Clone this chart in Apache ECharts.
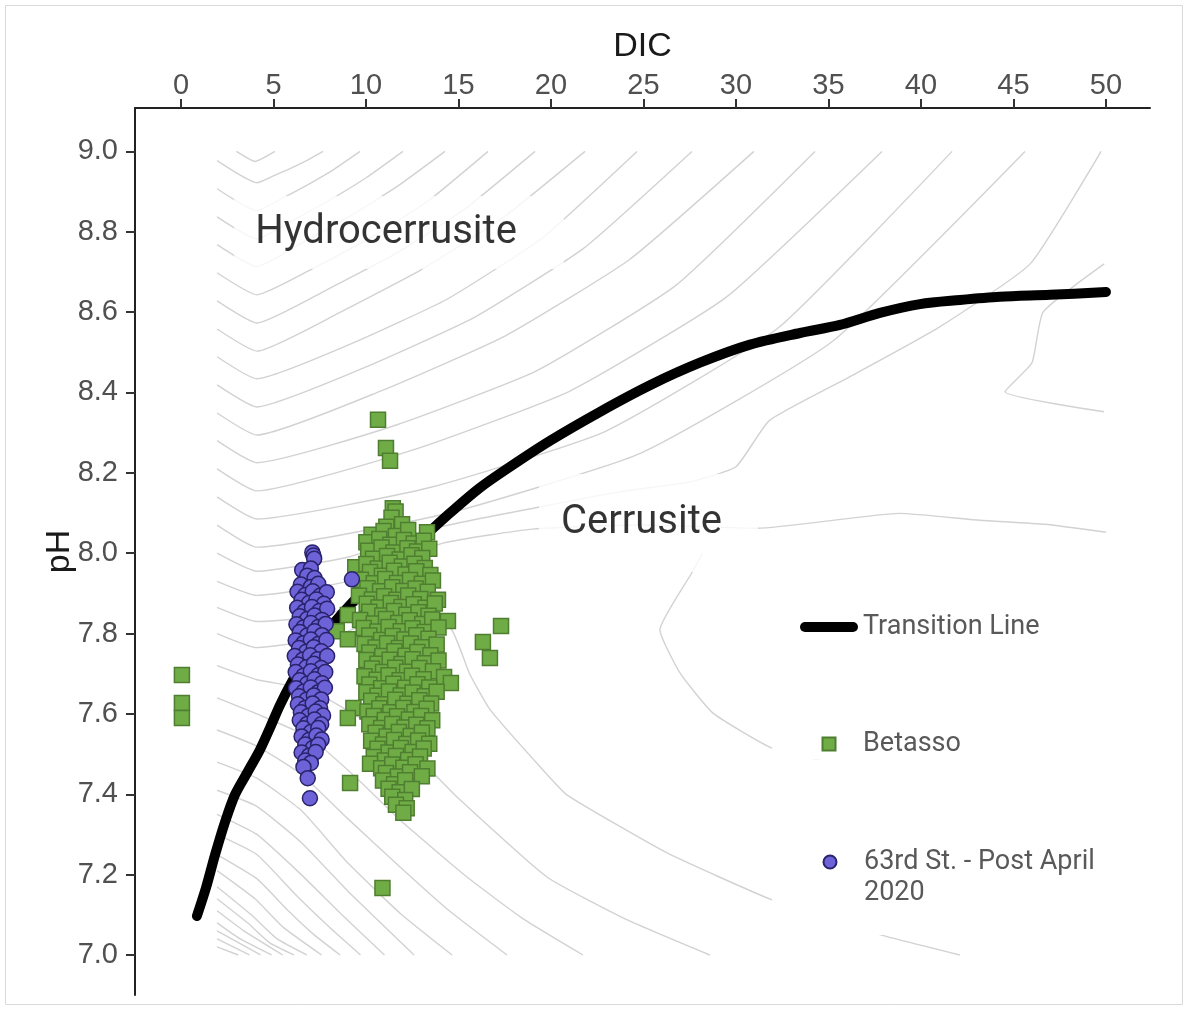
<!DOCTYPE html>
<html><head><meta charset="utf-8">
<script src="https://cdn.jsdelivr.net/npm/echarts@6/dist/echarts.min.js"></script>
<style>html,body{margin:0;padding:0;background:#fff}#c{width:1186px;height:1010px}</style>
</head><body><div id="c"></div>
<script>
// ---- axis ticks ----
const xTicks = [0, 5, 10, 15, 20, 25, 30, 35, 40, 45, 50];
const yTicks = [7.0, 7.2, 7.4, 7.6, 7.8, 8.0, 8.2, 8.4, 8.6, 8.8, 9.0];

// ---- transition line (DIC, pH) ----
const transitionLine = [
  [0.86,7.097],[1.35,7.167],[1.84,7.249],[2.38,7.331],[2.92,7.399],[3.57,7.453],[4.27,7.511],
  [4.81,7.565],[5.35,7.622],[6.0,7.68],[6.70,7.734],[7.41,7.779],[8.22,7.824],[9.14,7.871],
  [10.22,7.923],[11.57,7.983],[12.92,8.033],[14.54,8.100],[16.16,8.163],[17.78,8.215],
  [19.95,8.280],[22.65,8.352],[25.35,8.418],[28.05,8.474],[30.76,8.519],[33.46,8.548],
  [35.62,8.568],[37.78,8.598],[39.95,8.620],[42.11,8.630],[44.27,8.638],[46.97,8.643],[50.0,8.650]
];

// ---- Betasso (DIC, pH) ----
const betasso = [
  [11.45,8.112],[11.6,8.104],[11.38,8.088],[11.1,8.066],[11.95,8.072],
  [10.3,8.046],[10.95,8.055],[11.62,8.043],[12.28,8.058],[13.3,8.052],
  [10.02,8.027],[10.72,8.035],[11.32,8.021],[12.05,8.033],[12.58,8.024],[13.12,8.031],
  [10.12,8.006],[10.84,8.014],[11.48,8.002],[12.24,8.012],[12.76,8.004],[13.42,8.011],
  [10.38,7.986],[11.14,7.993],[11.82,7.984],[12.46,7.995],[13.04,7.988],
  [9.42,7.965],[10.02,7.973],[10.64,7.962],[11.28,7.976],[11.94,7.967],[12.62,7.974],[13.18,7.963],
  [10.22,7.953],[10.86,7.944],[11.52,7.956],[12.14,7.947],[12.72,7.955],[13.48,7.946],
  [9.72,7.934],[10.42,7.925],[11.04,7.936],[11.68,7.926],[12.38,7.933],[13.02,7.924],[13.62,7.932],
  [10.08,7.913],[10.76,7.905],[11.42,7.915],[12.02,7.906],[12.68,7.912],[13.34,7.904],
  [9.62,7.894],[10.32,7.885],[10.98,7.893],[11.64,7.884],[12.28,7.895],[12.94,7.886],[13.89,7.884],
  [10.04,7.874],[10.68,7.865],[11.34,7.876],[11.92,7.866],[12.58,7.873],[13.22,7.864],[13.72,7.875],
  [9.02,7.846],[10.18,7.854],[10.88,7.845],[11.52,7.856],[12.18,7.847],[12.84,7.853],[13.38,7.844],
  [9.68,7.834],[10.42,7.825],[11.08,7.836],[11.74,7.826],[12.36,7.833],[13.04,7.824],[13.58,7.835],[14.43,7.831],
  [8.42,7.806],[9.88,7.814],[10.62,7.805],[11.22,7.816],[11.88,7.806],[12.52,7.813],[13.18,7.804],[13.92,7.815],
  [9.02,7.786],[10.18,7.795],[10.82,7.784],[11.44,7.794],[12.08,7.785],[12.72,7.796],[13.38,7.787],
  [9.92,7.774],[10.52,7.765],[11.14,7.776],[11.78,7.764],[12.42,7.775],[13.02,7.766],[13.82,7.773],
  [10.18,7.753],[10.88,7.744],[11.54,7.756],[12.14,7.745],[12.78,7.754],[13.48,7.746],
  [10.02,7.734],[10.62,7.725],[11.28,7.735],[11.92,7.724],[12.52,7.736],[13.18,7.726],[13.92,7.733],
  [10.32,7.713],[10.92,7.704],[11.58,7.715],[12.22,7.705],[12.88,7.714],[13.62,7.706],
  [9.92,7.694],[10.58,7.685],[11.22,7.696],[11.82,7.684],[12.48,7.695],[13.12,7.686],[14.22,7.692],
  [10.18,7.673],[10.82,7.664],[11.48,7.675],[12.12,7.665],[12.78,7.674],[13.42,7.666],[14.59,7.677],
  [10.02,7.654],[10.62,7.645],[11.24,7.656],[11.88,7.646],[12.52,7.653],[13.18,7.644],[13.82,7.655],
  [10.28,7.633],[10.94,7.624],[11.58,7.635],[12.24,7.625],[12.88,7.634],[13.52,7.626],
  [9.32,7.615],[10.08,7.606],[10.72,7.614],[11.32,7.604],[12.02,7.615],[12.62,7.605],[13.28,7.613],
  [9.02,7.590],[10.42,7.595],[11.02,7.585],[11.68,7.594],[12.32,7.586],[12.98,7.595],[13.58,7.584],
  [10.18,7.574],[10.82,7.565],[11.42,7.575],[12.08,7.566],[12.72,7.573],[13.32,7.564],
  [10.52,7.553],[11.12,7.544],[11.78,7.555],[12.42,7.545],[13.02,7.554],
  [10.28,7.533],[10.92,7.524],[11.52,7.535],[12.18,7.525],[12.82,7.534],[13.42,7.526],
  [10.62,7.513],[11.22,7.504],[11.88,7.515],[12.52,7.505],[13.12,7.514],
  [10.42,7.493],[11.02,7.484],[11.62,7.495],[12.28,7.485],[12.92,7.494],
  [10.22,7.476],[10.82,7.465],[11.42,7.474],[12.02,7.466],[12.68,7.475],[13.32,7.464],
  [11.08,7.453],[11.72,7.444],[12.38,7.455],[13.02,7.445],
  [9.14,7.428],[10.92,7.434],[11.52,7.425],[12.12,7.435],
  [11.22,7.414],[11.82,7.405],[12.48,7.413],[11.42,7.394],[12.12,7.386],[11.62,7.374],[12.2,7.365],[12.02,7.354],
  [10.65,8.332],[11.08,8.262],[11.3,8.23],[10.89,7.167],
  [0.05,7.697],[0.05,7.627],[0.05,7.59],
  [16.32,7.779],[17.3,7.819],[16.7,7.739]
];

// ---- 63rd St. - Post April 2020 (DIC, pH) ----
const st63 = [
  [7.1,8.002],[7.16,7.994],[7.2,7.986],[6.55,7.958],[7.02,7.962],[6.82,7.944],[7.22,7.938],
  [6.48,7.922],[7.02,7.916],[7.42,7.924],
  [6.3,7.904],[6.72,7.896],[7.12,7.905],[7.52,7.894],[7.88,7.903],
  [6.52,7.884],[6.92,7.876],[7.32,7.885],[7.72,7.874],
  [6.28,7.864],[6.68,7.855],[7.08,7.866],[7.48,7.856],[7.9,7.862],
  [6.42,7.843],[6.82,7.836],[7.22,7.845],[7.62,7.834],
  [6.24,7.823],[6.62,7.815],[7.02,7.826],[7.42,7.816],[7.82,7.824],
  [6.42,7.804],[6.82,7.795],[7.22,7.806],[7.62,7.796],
  [6.2,7.783],[6.62,7.776],[7.02,7.785],[7.42,7.774],[7.86,7.784],
  [6.38,7.764],[6.78,7.755],[7.18,7.766],[7.58,7.756],
  [6.15,7.744],[6.58,7.735],[6.98,7.746],[7.38,7.736],[7.9,7.744],
  [6.32,7.723],[6.78,7.716],[7.18,7.725],[7.58,7.714],
  [6.2,7.704],[6.62,7.695],[7.02,7.706],[7.42,7.696],[7.8,7.704],
  [6.42,7.684],[6.82,7.675],[7.22,7.686],[7.62,7.676],
  [6.22,7.664],[6.62,7.655],[7.02,7.666],[7.42,7.654],[7.78,7.665],
  [6.38,7.644],[6.78,7.635],[7.18,7.646],[7.58,7.636],
  [6.32,7.624],[6.72,7.615],[7.12,7.626],[7.52,7.614],
  [6.48,7.604],[6.88,7.595],[7.28,7.606],[7.68,7.596],
  [6.42,7.584],[6.82,7.575],[7.22,7.586],[7.58,7.574],
  [6.62,7.564],[7.02,7.555],[7.42,7.565],
  [6.52,7.544],[6.92,7.535],[7.32,7.546],[7.6,7.536],
  [6.72,7.524],[7.12,7.515],[7.42,7.523],
  [6.52,7.504],[6.92,7.496],[7.28,7.505],
  [6.72,7.484],[7.02,7.478],[6.62,7.468],[6.85,7.44],[6.97,7.39],
  [9.24,7.935]
];

// ---- background contour lines (DIC, pH) ----
const contourUpper = [
  [[3.0,9.0],[4.0,8.975],[5.08,9.0]],
  [[1.95,8.977],[4.1,8.922],[4.995,8.939],[5.89,8.957],[6.785,8.977],[7.68,9.0]],
  [[1.95,8.907],[4.1,8.852],[5.5,8.884],[6.89,8.918],[8.29,8.956],[9.68,9.0]],
  [[1.95,8.837],[4.1,8.782],[6.08,8.829],[8.05,8.879],[10.03,8.935],[12.0,9.0]],
  [[1.95,8.768],[4.1,8.713],[6.64,8.775],[9.19,8.840],[11.73,8.914],[14.27,9.0]],
  [[1.95,8.698],[4.1,8.643],[7.23,8.711],[10.35,8.788],[13.48,8.881],[16.6,9.0]],
  [[1.95,8.628],[4.1,8.573],[7.86,8.655],[11.62,8.746],[15.38,8.858],[19.14,9.0]],
  [[1.95,8.558],[4.1,8.503],[8.54,8.598],[12.97,8.705],[17.41,8.835],[21.84,9.0]],
  [[1.95,8.489],[4.1,8.434],[9.24,8.522],[14.38,8.632],[19.51,8.784],[24.65,9.0]],
  [[1.95,8.419],[4.1,8.364],[9.98,8.463],[15.86,8.587],[21.74,8.758],[27.62,9.0]],
  [[1.95,8.349],[4.1,8.294],[10.82,8.404],[17.54,8.541],[24.25,8.731],[30.97,9.0]],
  [[1.95,8.28],[4.1,8.225],[11.64,8.319],[19.19,8.453],[26.73,8.666],[34.27,9.0]],
  [[1.95,8.21],[4.1,8.155],[12.55,8.257],[21.0,8.403],[29.44,8.636],[37.89,9.0]],
  [[1.95,8.14],[4.1,8.085],[13.5,8.164],[22.89,8.302],[32.29,8.561],[41.68,9.0]],
  [[1.95,8.07],[4.1,8.015],[14.48,8.10],[24.86,8.249],[35.24,8.528],[45.62,9.0]]
];
const contourMid = [
  [[1.95,8.0],[4.1,7.955],[9,7.99],[14,8.065],[19.4,8.115],[24,8.155],[27.5,8.177],[30.0,8.215],[31.8,8.33],[36.2,8.44],[40.9,8.56],[45.9,8.72],[49.73,9.0]],
  [[1.95,7.93],[4.1,7.895],[9,7.93],[14.16,8.025],[19.03,8.06],[25,8.07],[31.14,8.062],[38.86,8.099],[43.19,8.082],[46.7,8.072],[50,8.052]],
  [[1.95,7.865],[4.1,7.83],[7,7.84],[9.5,7.87],[11.5,7.9],[13,7.93]],
  [[49.9,8.72],[46.6,8.60],[46.0,8.474],[44.54,8.402],[49.9,8.352]],
  [[28.2,8.0],[27.6,7.95],[25.89,7.809],[27.0,7.70],[28.76,7.602],[31.95,7.515],[36,7.47],[42,7.43],[50,7.40]]
];
const contourLower = [
  [[1.95,7.80],[4.1,7.765],[8,7.79],[12,7.85],[14.54,7.816],[15.6,7.70],[16.72,7.61],[19.42,7.468],[20.88,7.398],[26.28,7.254],[31.95,7.137],[37,7.06],[42.1,7.0]],
  [[1.95,7.72],[4.1,7.685],[7,7.66],[10,7.58],[12.92,7.485],[14.92,7.393],[19.78,7.194],[24,7.09],[28.59,7.0]],
  [[1.95,7.64],[4.1,7.60],[7,7.54],[9.5,7.44],[11.84,7.336],[15.46,7.194],[18.5,7.09],[21.73,7.0]],
  [[1.95,7.56],[4.1,7.52],[6.5,7.45],[9,7.34],[11.84,7.219],[14.5,7.11],[17.62,7.0]],
  [[1.95,7.48],[4.1,7.44],[6.5,7.36],[9,7.23],[11.84,7.104],[14.65,7.0]],
  [[1.95,7.41],[4.1,7.37],[6.5,7.28],[9,7.16],[12.6,7.0]],
  [[1.95,7.35],[4.1,7.30],[6.5,7.20],[8.7,7.10],[11.0,7.0]],
  [[1.95,7.30],[4.1,7.25],[6.2,7.15],[8.0,7.07],[9.7,7.0]],
  [[1.95,7.25],[4.1,7.19],[5.8,7.11],[7.2,7.05],[8.6,7.0]],
  [[1.95,7.21],[4.0,7.14],[5.5,7.07],[7.6,7.0]],
  [[1.95,7.17],[3.8,7.10],[5.2,7.04],[6.8,7.0]],
  [[1.95,7.14],[3.6,7.08],[4.8,7.03],[6.1,7.0]],
  [[1.95,7.11],[3.4,7.06],[5.5,7.0]],
  [[1.95,7.08],[3.2,7.04],[4.9,7.0]],
  [[1.95,7.06],[4.3,7.0]],
  [[1.95,7.04],[3.7,7.0]],
  [[1.95,7.02],[3.1,7.0]]
];

// ---- region labels (DIC, pH) ----
const regionNames = ['Hydrocerrusite', 'Cerrusite'];
const regionPos = [[11.784, 8.798], [25.27, 8.075]];

const chart = echarts.init(document.getElementById('c'), null, { renderer: 'canvas' });

const contourSeries = [...contourUpper, ...contourMid, ...contourLower].map((pts, i) => ({
  type: 'line', name: 'contour' + i, data: pts, symbol: 'none', smooth: 0.15,
  silent: true, z: 1, lineStyle: { color: '#d2d2d2', width: 1.4 }, animation: false
}));

const labelPadding = [[13, 47, 14, 21], [26, 36, 26, 22]];

const option = {
  backgroundColor: '#ffffff',
  animation: false,
  graphic: [{
    type: 'rect', silent: true, z: -10,
    shape: { x: 5.5, y: 5.5, width: 1177, height: 999 },
    style: { fill: 'none', stroke: '#d9d9d9', lineWidth: 1 }
  }],
  grid: { left: 135, top: 108, right: 36, bottom: 15, containLabel: false, outerBoundsMode: 'none' },
  xAxis: {
    type: 'value', position: 'top', min: -2.486, max: 52.38,
    name: 'DIC', nameLocation: 'middle', nameGap: 44, nameMoveOverlap: false,
    nameTextStyle: { fontSize: 34, color: '#1a1a1a', fontFamily: 'Liberation Sans' },
    axisLine: { show: true, onZero: false, lineStyle: { color: '#222', width: 2 } },
    axisTick: { show: true, customValues: xTicks, length: 9, lineStyle: { color: '#333', width: 2 } },
    axisLabel: { customValues: xTicks, fontSize: 29, color: '#505050', margin: 8, fontFamily: 'Liberation Sans' },
    splitLine: { show: false }
  },
  yAxis: {
    type: 'value', min: 6.9004, max: 9.108,
    name: 'pH', nameLocation: 'middle', nameGap: 58, nameMoveOverlap: false,
    nameTextStyle: { fontSize: 34, color: '#1a1a1a', fontFamily: 'Liberation Sans' },
    axisLine: { show: true, onZero: false, lineStyle: { color: '#222', width: 2 } },
    axisTick: { show: true, customValues: yTicks, length: 9, lineStyle: { color: '#333', width: 2 } },
    axisLabel: { customValues: yTicks, fontSize: 29, color: '#505050', margin: 17, fontFamily: 'Liberation Sans',
      formatter: v => v.toFixed(1) },
    splitLine: { show: false }
  },
  legend: [
    {
      orient: 'vertical', left: 772, top: 590, padding: [21.5, 80, 0, 28],
      backgroundColor: '#ffffff', itemWidth: 58, itemHeight: 13, itemGap: 86,
      textStyle: { fontSize: 27, color: '#595959', fontFamily: 'Roboto', lineHeight: 31 },
      data: [
        { name: 'Transition Line', icon: 'path://M5,0H53A5,5,0,0,1,53,10H5A5,5,0,0,1,5,0Z' },
        { name: 'Betasso', icon: 'path://M0,0H10V10H0Z' }
      ]
    },
    {
      orient: 'vertical', left: 772, top: 759.5, padding: [56, 40, 26.5, 50.5],
      backgroundColor: '#ffffff', itemWidth: 58, itemHeight: 13,
      textStyle: { fontSize: 27, color: '#595959', fontFamily: 'Roboto', lineHeight: 31,
        rich: { e: { fontSize: 27, lineHeight: 31 } } },
      formatter: n => n === '63rd St. - Post April 2020' ? '{e| }\n63rd St. - Post April\n2020' : n,
      data: [ { name: '63rd St. - Post April 2020', icon: 'circle' } ]
    }
  ],
  series: [
    ...contourSeries,
    {
      type: 'scatter', name: 'regionLabels', symbolSize: 1, z: 3, silent: true,
      data: regionNames.map((n, i) => ({ name: n, value: regionPos[i], label: { padding: labelPadding[i] } })),
      itemStyle: { color: 'rgba(0,0,0,0)' },
      label: {
        show: true, position: 'inside', formatter: p => p.name, fontSize: 40, color: '#000',
        fontFamily: 'Roboto', backgroundColor: '#ffffff', lineHeight: 46
      },
      emphasis: { disabled: true }
    },
    {
      type: 'line', name: 'Transition Line', data: transitionLine, symbol: 'none', smooth: 0.3, z: 4,
      lineStyle: { color: '#000', width: 10, cap: 'round', join: 'round' },
      itemStyle: { color: '#000', borderWidth: 0 }
    },
    {
      type: 'scatter', name: 'Betasso', data: betasso, symbol: 'rect', symbolSize: 15, z: 5,
      itemStyle: { color: '#6fac46', borderColor: '#4f7e31', borderWidth: 1.5, opacity: 1 }
    },
    {
      type: 'scatter', name: '63rd St. - Post April 2020', data: st63, symbol: 'circle', symbolSize: 15, z: 6,
      itemStyle: { color: '#6e62d8', borderColor: '#29236b', borderWidth: 1.5, opacity: 1 }
    }
  ]
};
chart.setOption(option);
</script></body></html>
